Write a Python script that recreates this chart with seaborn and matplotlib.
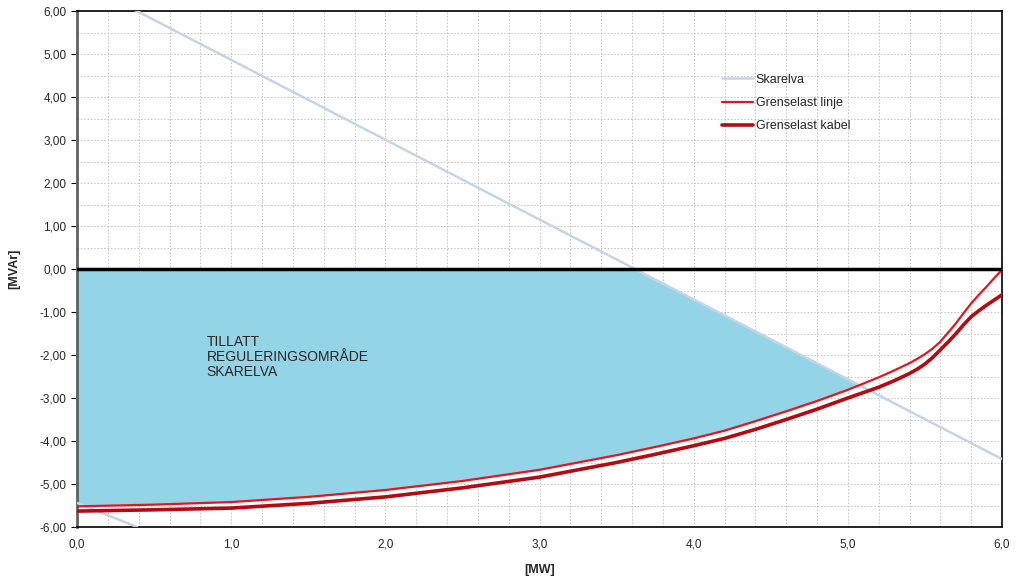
import numpy as np
import pandas as pd
import matplotlib
matplotlib.use("Agg")
import matplotlib.pyplot as plt
import seaborn as sns
from matplotlib.ticker import MultipleLocator, FuncFormatter

# Data
skarelva_p = [0.0, 6.0]
skarelva_q = [6.72, -4.42]
skarelva_low_p = [0.0, 0.39]
skarelva_low_q = [-5.44, -6.0]

p = [0.0, 0.5, 1.0, 1.5, 2.0, 2.5, 3.0, 3.5, 3.75, 4.0, 4.2, 4.4, 4.6, 4.8, 5.0,
     5.2, 5.3, 5.4, 5.45, 5.5, 5.55, 5.6, 5.65, 5.7, 5.75, 5.8, 5.85, 5.9, 5.95, 6.0]
linje_q = [-5.52, -5.48, -5.42, -5.30, -5.14, -4.93, -4.67, -4.33, -4.14, -3.94,
           -3.76, -3.54, -3.31, -3.07, -2.81, -2.52, -2.36, -2.19, -2.09, -1.98,
           -1.85, -1.69, -1.48, -1.27, -1.03, -0.80, -0.60, -0.41, -0.21, -0.02]
kabel_q = [-5.63, -5.60, -5.56, -5.45, -5.30, -5.09, -4.84, -4.50, -4.31, -4.11,
           -3.94, -3.73, -3.50, -3.26, -3.00, -2.75, -2.60, -2.43, -2.33, -2.21,
           -2.06, -1.88, -1.70, -1.51, -1.30, -1.11, -0.97, -0.84, -0.72, -0.60]

sns.set_style("white")
plt.rcParams['font.family'] = ['Liberation Sans', 'DejaVu Sans']

fig = plt.figure(figsize=(10.23, 5.77), dpi=100)
ax = fig.add_axes([77 / 1023, 1 - 527 / 577, 925 / 1023, 516 / 577])

# Allowed regulation area: between linje curve and min(0, Skarelva)
pf = np.linspace(0, 6, 1201)
lower = np.interp(pf, p, linje_q)
upper = np.minimum(0, np.interp(pf, skarelva_p, skarelva_q))
ax.fill_between(pf, lower, upper, where=upper > lower, interpolate=True,
                color="#93D4E6", lw=0, zorder=1)

df_sk = pd.DataFrame({"P": skarelva_p, "Q": skarelva_q})
df_li = pd.DataFrame({"P": p, "Q": linje_q})
df_ka = pd.DataFrame({"P": p, "Q": kabel_q})

sns.lineplot(data=df_sk, x="P", y="Q", ax=ax, color="#C6D4E8", lw=1.8, label="Skarelva", zorder=3)
sns.lineplot(x=skarelva_low_p, y=skarelva_low_q, ax=ax, color="#C6D4E8", lw=1.8, zorder=3)
sns.lineplot(data=df_li, x="P", y="Q", ax=ax, color="#E8141C", lw=1.6, label="Grenselast linje", zorder=4)
sns.lineplot(data=df_ka, x="P", y="Q", ax=ax, color="#B40A10", lw=2.6, label="Grenselast kabel", zorder=4)

ax.axhline(0, color="black", lw=2.5, zorder=5)

ax.set_xlim(0, 6)
ax.set_ylim(-6, 6)
ax.xaxis.set_major_locator(MultipleLocator(1))
ax.xaxis.set_minor_locator(MultipleLocator(0.2))
ax.yaxis.set_major_locator(MultipleLocator(1))
ax.yaxis.set_minor_locator(MultipleLocator(0.5))
ax.xaxis.set_major_formatter(FuncFormatter(lambda v, pos: f"{v:.1f}".replace(".", ",")))
ax.yaxis.set_major_formatter(FuncFormatter(lambda v, pos: f"{v:.2f}".replace(".", ",")))
ax.grid(which="both", color="#BDBDBD", ls=(0, (2, 2)), lw=0.6, zorder=0)
ax.set_axisbelow(True)

ax.tick_params(axis="both", which="major", labelsize=8.5, length=4, direction="out", color="black")
ax.tick_params(axis="x", which="major", length=0, pad=8)
ax.tick_params(which="minor", length=0)
ax.yaxis.set_ticks_position("left")

for side in ["top", "right", "bottom"]:
    ax.spines[side].set_color("black")
    ax.spines[side].set_linewidth(1.2)
ax.spines["left"].set_color("#606060")
ax.spines["left"].set_linewidth(2)

ax.set_xlabel("[MW]", fontsize=9, fontweight="bold", labelpad=10)
ax.set_ylabel("[MVAr]", fontsize=9, fontweight="bold", labelpad=14)

ax.text(0.84, -1.53, "TILLATT\nREGULERINGSOMRÅDE\nSKARELVA", fontsize=10,
        va="top", ha="left", linespacing=1.1, zorder=6)

ax.legend(loc="upper left", bbox_to_anchor=(0.685, 0.9), frameon=False, fontsize=9,
          handlelength=2.5, handletextpad=0.2, labelspacing=0.9)

fig.savefig("out.png", dpi=100)
